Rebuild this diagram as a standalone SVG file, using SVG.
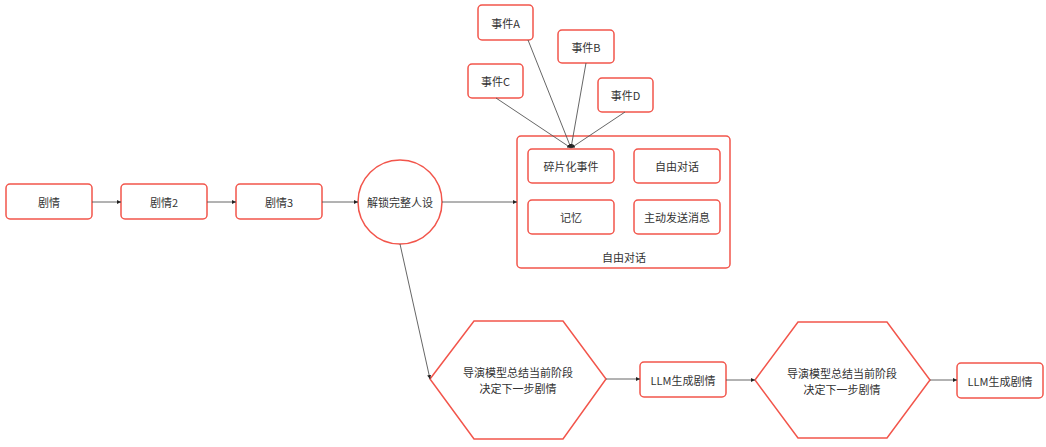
<svg xmlns="http://www.w3.org/2000/svg" width="1046" height="447" viewBox="0 0 1046 447">
<style>
.n{fill:#fff;stroke:#f2554b;stroke-width:1.5}
.t{font-family:"Noto Sans CJK SC","Liberation Sans",sans-serif;font-size:11px;fill:#333;text-anchor:middle;dominant-baseline:central}
.c{stroke:#555;stroke-width:0.9;fill:none}
</style>
<defs>
<marker id="ah" viewBox="0 0 6 6" refX="6" refY="3" markerWidth="4" markerHeight="4" orient="auto" markerUnits="userSpaceOnUse">
<path d="M0,0L6,3L0,6z" fill="#222"/>
</marker>
</defs>
<rect width="1046" height="447" fill="#fff"/>
<g id="n-juqing"><rect class="n" x="6" y="184" width="86" height="35" rx="4"/><text class="t" x="49" y="201.5">剧情</text></g>
<g id="n-juqing2"><rect class="n" x="121" y="184" width="86" height="35" rx="4"/><text class="t" x="164" y="201.5">剧情2</text></g>
<g id="n-juqing3"><rect class="n" x="236" y="184" width="86" height="35" rx="4"/><text class="t" x="279" y="201.5">剧情3</text></g>
<g id="n-unlock"><circle class="n" cx="400" cy="202" r="42"/><text class="t" x="400" y="202">解锁完整人设</text></g>
<g id="n-container"><rect class="n" x="517" y="136" width="213" height="132" rx="4"/><text class="t" x="624" y="257">自由对话</text></g>
<g id="n-frag"><rect class="n" x="528" y="149" width="86" height="34" rx="4"/><text class="t" x="571" y="166">碎片化事件</text></g>
<g id="n-chat"><rect class="n" x="634" y="149" width="86" height="34" rx="4"/><text class="t" x="677" y="166">自由对话</text></g>
<g id="n-memory"><rect class="n" x="528" y="200" width="86" height="34" rx="4"/><text class="t" x="571" y="217">记忆</text></g>
<g id="n-send"><rect class="n" x="634" y="200" width="86" height="34" rx="4"/><text class="t" x="677" y="217">主动发送消息</text></g>
<g id="n-evA"><rect class="n" x="478" y="5" width="55" height="35" rx="4"/><text class="t" x="505.5" y="22.5">事件A</text></g>
<g id="n-evB"><rect class="n" x="558" y="30" width="56" height="33" rx="4"/><text class="t" x="586" y="46.5">事件B</text></g>
<g id="n-evC"><rect class="n" x="468" y="64" width="55" height="34" rx="4"/><text class="t" x="495.5" y="81">事件C</text></g>
<g id="n-evD"><rect class="n" x="598" y="78" width="55" height="34" rx="4"/><text class="t" x="625.5" y="95">事件D</text></g>
<g id="n-hex1"><polygon class="n" points="430,379 474,321 563,321 606,379 563,439 474,439"/><text class="t" x="518" y="372">导演模型总结当前阶段</text><text class="t" x="518" y="388">决定下一步剧情</text></g>
<g id="n-llm1"><rect class="n" x="640" y="362" width="86" height="35" rx="4"/><text class="t" x="683" y="379.5">LLM生成剧情</text></g>
<g id="n-hex2"><polygon class="n" points="755,380 798,322 887,322 930,380 887,438 798,438"/><text class="t" x="842" y="373">导演模型总结当前阶段</text><text class="t" x="842" y="389">决定下一步剧情</text></g>
<g id="n-llm2"><rect class="n" x="957" y="363" width="86" height="35" rx="4"/><text class="t" x="1000" y="380.5">LLM生成剧情</text></g>
<g id="connectors">
<line class="c" x1="92" y1="202" x2="121" y2="202" marker-end="url(#ah)"/>
<line class="c" x1="207" y1="202" x2="236" y2="202" marker-end="url(#ah)"/>
<line class="c" x1="322" y1="202" x2="358" y2="202" marker-end="url(#ah)"/>
<line class="c" x1="442" y1="202" x2="517" y2="202" marker-end="url(#ah)"/>
<line class="c" x1="528" y1="40" x2="571" y2="148" marker-end="url(#ah)"/>
<line class="c" x1="586" y1="63" x2="571" y2="148" marker-end="url(#ah)"/>
<line class="c" x1="496" y1="98" x2="571" y2="148" marker-end="url(#ah)"/>
<line class="c" x1="625" y1="112" x2="571" y2="148" marker-end="url(#ah)"/>
<line class="c" x1="400" y1="244" x2="430" y2="379" marker-end="url(#ah)"/>
<line class="c" x1="606" y1="379" x2="640" y2="379" marker-end="url(#ah)"/>
<line class="c" x1="726" y1="380" x2="755" y2="380" marker-end="url(#ah)"/>
<line class="c" x1="930" y1="380" x2="957" y2="380" marker-end="url(#ah)"/>
</g>
</svg>
